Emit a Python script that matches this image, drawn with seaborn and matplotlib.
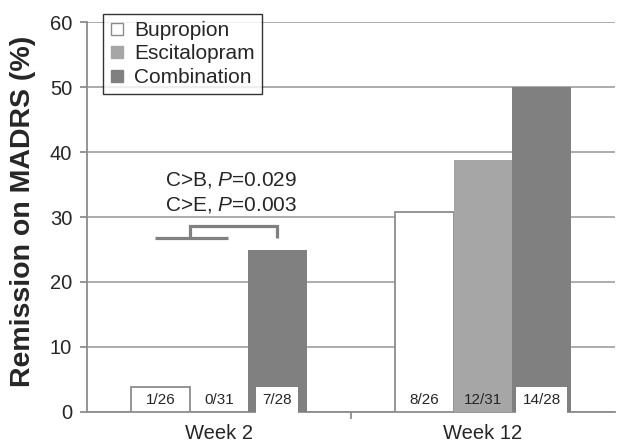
import matplotlib
matplotlib.use("Agg")
import matplotlib.pyplot as plt
import seaborn as sns
import pandas as pd
from matplotlib.lines import Line2D

weeks = ["Week 2", "Week 12"]
treatments = ["Bupropion", "Escitalopram", "Combination"]
remission = {
    "Bupropion": [3.85, 30.77],
    "Escitalopram": [0.0, 38.71],
    "Combination": [25.0, 50.0],
}
counts = {
    "Bupropion": ["1/26", "8/26"],
    "Escitalopram": ["0/31", "12/31"],
    "Combination": ["7/28", "14/28"],
}
yticks = [0, 10, 20, 30, 40, 50, 60]
annot_lines = ["C>B, $P$=0.029", "C>E, $P$=0.003"]

rows = []
for t in treatments:
    for w, v in zip(weeks, remission[t]):
        rows.append({"week": w, "treatment": t, "value": v})
df = pd.DataFrame(rows)

sns.set_style("white")
plt.rcParams["font.family"] = ["Liberation Sans", "DejaVu Sans"]
plt.rcParams["mathtext.fontset"] = "custom"
plt.rcParams["mathtext.it"] = "Liberation Sans:italic"
plt.rcParams["mathtext.rm"] = "Liberation Sans"

colors = {"Bupropion": "#ffffff", "Escitalopram": "#a6a6a6", "Combination": "#808080"}

fig = plt.figure(figsize=(6.2, 4.42), dpi=100)
ax = fig.add_axes([0.140, 0.068, 0.852, 0.882])

sns.barplot(data=df, x="week", y="value", hue="treatment", order=weeks,
            hue_order=treatments, palette=colors, width=0.665, ax=ax,
            legend=False, saturation=1, errorbar=None, zorder=3)

for bar in ax.containers[0]:
    bar.set_edgecolor("#8c8c8c")
    bar.set_linewidth(1.3)
for c in ax.containers[1:]:
    for bar in c:
        bar.set_edgecolor("none")

ax.set_xlim(-0.5, 1.5)
ax.set_ylim(0, 60)
ax.set_yticks(yticks)
ax.yaxis.grid(True, color="#a6a6a6", linewidth=1.3, zorder=0)
ax.set_axisbelow(True)
for s in ["top", "right"]:
    ax.spines[s].set_visible(False)
for s in ["left", "bottom"]:
    ax.spines[s].set_color("#8c8c8c")
    ax.spines[s].set_linewidth(1.3)

ax.tick_params(axis="y", which="major", length=5, width=1.3, color="#8c8c8c",
               labelsize=14.5, pad=5.5, left=True)
ax.tick_params(axis="x", which="major", length=0, labelsize=14.5, pad=8.5)
ax.set_xticks([0.5], minor=True)
ax.tick_params(axis="x", which="minor", length=5, width=1.3, color="#8c8c8c", bottom=True)
ax.set_xlabel("")
ax.set_ylabel("Remission on MADRS (%)", fontsize=20.5, fontweight="bold")
ax.yaxis.set_label_coords(-0.121, 0.515)
ax.yaxis.label.set_va("center")

for i, t in enumerate(treatments):
    for j, bar in enumerate(ax.containers[i]):
        cx = bar.get_x() + bar.get_width() / 2
        kw = {}
        if t == "Combination":
            kw["bbox"] = dict(boxstyle="square,pad=0.4", facecolor="white", edgecolor="none")
        ax.text(cx, 1.8, counts[t][j], ha="center", va="center", fontsize=11,
                zorder=5, **kw)

bw = 0.665 / 3
bx = [ax.containers[k][0].get_x() + bw / 2 for k in range(3)]
gray = "#808080"
lw = 2.3
mid = (bx[0] + bx[1]) / 2
ax.plot([bx[0] - 0.02, bx[1] + 0.036], [26.8, 26.8], color=gray, lw=lw, zorder=4,
        solid_capstyle="butt")
ax.plot([mid, mid, bx[2], bx[2]], [26.8, 28.6, 28.6, 26.8], color=gray, lw=lw,
        zorder=4, solid_capstyle="butt", solid_joinstyle="miter")
ax.text(0.045, 35.7, annot_lines[0], ha="center", va="center", fontsize=15, zorder=5)
ax.text(0.045, 31.8, annot_lines[1], ha="center", va="center", fontsize=15, zorder=5)

handles = [Line2D([], [], marker="s", linestyle="none", markersize=8,
                  markerfacecolor=colors[t],
                  markeredgecolor="#8c8c8c" if t == "Bupropion" else colors[t],
                  markeredgewidth=1.0) for t in treatments]
leg = ax.legend(handles, treatments, loc="upper left", bbox_to_anchor=(0.030, 1.022),
                borderaxespad=0, frameon=True, fancybox=False, fontsize=15,
                handlelength=0.7, handletextpad=0.45, labelspacing=0.22,
                borderpad=0.35)
leg.get_frame().set_edgecolor("black")
leg.get_frame().set_linewidth(1.0)
leg.set_zorder(6)

fig.savefig("out.png", dpi=100)
